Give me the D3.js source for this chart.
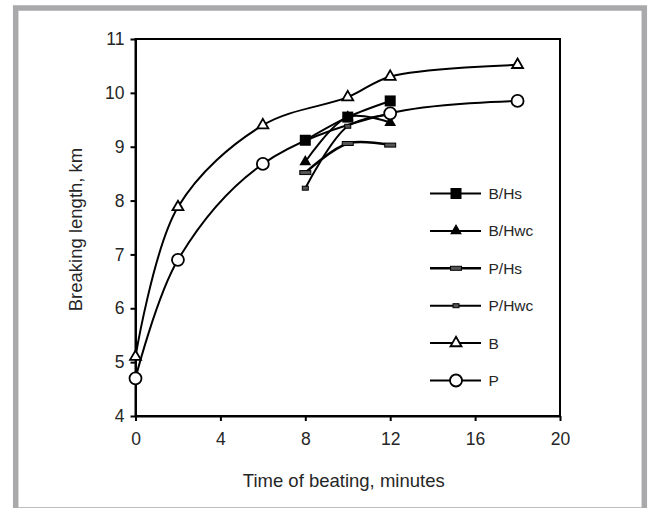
<!DOCTYPE html>
<html>
<head>
<meta charset="utf-8">
<script src="https://cdn.jsdelivr.net/npm/d3@7"></script>
<style>
  body { margin: 0; background: #fff; }
  svg { display: block; font-family: "Liberation Sans", Arial, sans-serif; }
</style>
</head>
<body>
<div id="chart"></div>
<script>
// data (time in minutes, breaking length in km)
const seriesNames = ["B/Hs", "B/Hwc", "P/Hs", "P/Hwc", "B", "P"];

const timeBHs = [8, 10, 12];
const valBHs = [9.12, 9.55, 9.85];

const timeBHwc = [8, 10, 12];
const valBHwc = [8.72, 9.55, 9.45];

const timePHs = [8, 10, 12];
const valPHs = [8.52, 9.06, 9.03];

const timePHwc = [8, 10, 12];
const valPHwc = [8.23, 9.38, 9.6];

const timeB = [0, 2, 6, 10, 12, 18];
const valB = [5.1, 7.88, 9.4, 9.92, 10.3, 10.52];

const timeP = [0, 2, 6, 12, 18];
const valP = [4.7, 6.9, 8.68, 9.62, 9.85];

const xTicks = [0, 4, 8, 12, 16, 20];
const yTicks = [4, 5, 6, 7, 8, 9, 10, 11];

const width = 654,
  height = 508;
const margin = { top: 39, right: 94, bottom: 92, left: 135.5 };

const svg = d3
  .select("#chart")
  .append("svg")
  .attr("width", width)
  .attr("height", height);

// grey frame round the figure
const frame = svg.append("g").attr("fill", "none").attr("stroke", "#a9a9ac");
frame.append("path").attr("stroke-width", 5.5).attr("d", "M15.7,508 V8 H644.3 V508");
frame.append("path").attr("stroke-width", 1).attr("stroke", "#bdbdbd").attr("d", "M18,507.5 H642");

const x = d3.scaleLinear().domain([0, 20]).range([margin.left, width - margin.right]);
const y = d3.scaleLinear().domain([4, 11]).range([height - margin.bottom, margin.top]);

// plot box
svg
  .append("rect")
  .attr("x", x(0))
  .attr("y", y(11))
  .attr("width", x(20) - x(0))
  .attr("height", y(4) - y(11))
  .attr("fill", "none")
  .attr("stroke", "#000")
  .attr("stroke-width", 2);

const xAxis = svg
  .append("g")
  .attr("transform", `translate(0,${y(4)})`)
  .call(d3.axisBottom(x).tickValues(xTicks).tickFormat(d3.format("d")).tickSize(5).tickSizeOuter(0).tickPadding(12));
const yAxis = svg
  .append("g")
  .attr("transform", `translate(${x(0)},0)`)
  .call(d3.axisLeft(y).tickValues(yTicks).tickFormat(d3.format("d")).tickSize(5).tickSizeOuter(0).tickPadding(6));

[xAxis, yAxis].forEach((a) => {
  a.attr("font-size", 17.5).attr("font-family", "Liberation Sans, Arial, sans-serif");
  a.select(".domain").attr("stroke", "#000").attr("stroke-width", 2);
  a.selectAll(".tick line").attr("stroke", "#000").attr("stroke-width", 2);
  a.selectAll(".tick text").attr("fill", "#262626");
});

svg
  .append("text")
  .attr("x", (x(0) + x(20)) / 2 - 4)
  .attr("y", 487)
  .attr("text-anchor", "middle")
  .attr("font-size", 18.5)
  .attr("fill", "#262626")
  .text("Time of beating, minutes");

svg
  .append("text")
  .attr("transform", `translate(82,${(y(4) + y(11)) / 2 + 2}) rotate(-90)`)
  .attr("text-anchor", "middle")
  .attr("font-size", 18.5)
  .attr("fill", "#262626")
  .text("Breaking length, km");

const series = [
  { name: seriesNames[0], t: timeBHs, v: valBHs, mark: "square", lw: 2 },
  { name: seriesNames[1], t: timeBHwc, v: valBHwc, mark: "triangle", lw: 2 },
  { name: seriesNames[2], t: timePHs, v: valPHs, mark: "dash", lw: 2.5 },
  { name: seriesNames[3], t: timePHwc, v: valPHwc, mark: "dot", lw: 2 },
  { name: seriesNames[4], t: timeB, v: valB, mark: "openTriangle", lw: 2 },
  { name: seriesNames[5], t: timeP, v: valP, mark: "circle", lw: 2 },
];

const line = d3
  .line()
  .x((d) => x(d[0]))
  .y((d) => y(d[1]))
  .curve(d3.curveCatmullRom.alpha(0.5));

function drawMarker(g, kind) {
  if (kind === "square") {
    g.append("rect").attr("x", -5.5).attr("y", -5.5).attr("width", 11).attr("height", 11).attr("fill", "#000");
  } else if (kind === "triangle") {
    g.append("path").attr("d", d3.symbol(d3.symbolTriangle, 60)()).attr("fill", "#000");
  } else if (kind === "dash") {
    g.append("rect").attr("x", -5.5).attr("y", -2).attr("width", 11).attr("height", 4)
      .attr("fill", "#555").attr("stroke", "#000").attr("stroke-width", 1);
  } else if (kind === "dot") {
    g.append("rect").attr("x", -3).attr("y", -2).attr("width", 6).attr("height", 4)
      .attr("fill", "#555").attr("stroke", "#000").attr("stroke-width", 1);
  } else if (kind === "openTriangle") {
    g.append("path").attr("d", d3.symbol(d3.symbolTriangle, 52)())
      .attr("fill", "#fff").attr("stroke", "#000").attr("stroke-width", 1.8);
  } else if (kind === "circle") {
    g.append("circle").attr("r", 6).attr("fill", "#fff").attr("stroke", "#000").attr("stroke-width", 1.8);
  }
}

const plot = svg.append("g");
series.forEach((s) => {
  const pts = s.t.map((t, i) => [t, s.v[i]]);
  plot
    .append("path")
    .datum(pts)
    .attr("fill", "none")
    .attr("stroke", "#000")
    .attr("stroke-width", s.lw)
    .attr("d", line);
});
series.forEach((s) => {
  s.t.forEach((t, i) => {
    const g = plot.append("g").attr("transform", `translate(${x(t)},${y(s.v[i])})`);
    drawMarker(g, s.mark);
  });
});

// legend
const legend = svg.append("g").attr("transform", "translate(430,193.5)");
series.forEach((s, i) => {
  const row = legend.append("g").attr("transform", `translate(0,${i * 37.4})`);
  row.append("line").attr("x1", 0).attr("x2", 51).attr("stroke", "#000").attr("stroke-width", s.lw);
  drawMarker(row.append("g").attr("transform", "translate(26,0)"), s.mark);
  row
    .append("text")
    .attr("x", 58.5)
    .attr("dy", "0.36em")
    .attr("font-size", 15.5)
    .attr("fill", "#262626")
    .text(s.name);
});
</script>
</body>
</html>
